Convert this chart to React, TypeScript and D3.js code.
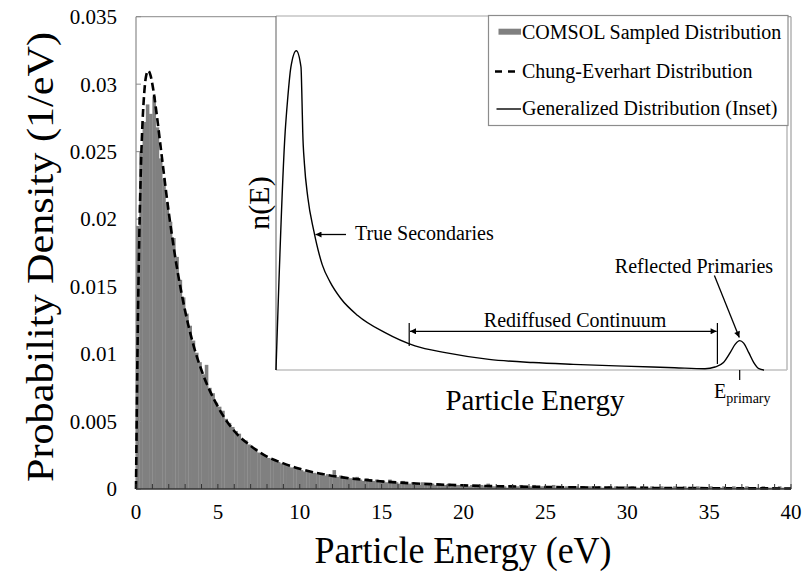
import React from "react";
import * as d3 from "d3";

// ---------- DATA ----------
const BIN_WIDTH = 0.2; // eV
// sampled histogram (probability density per bin), bins start at 0, 0.2, 0.4 ...
const HIST_0_10 = [
  0.0195, 0.025, 0.0272, 0.0285, 0.0278, 0.0291, 0.0268, 0.0245, 0.023, 0.0212,
  0.0198, 0.0186, 0.0172, 0.0155, 0.0142, 0.013, 0.0121, 0.011, 0.0101, 0.0094,
  0.0085, 0.0092, 0.0075, 0.0071, 0.0064, 0.0061, 0.0058, 0.0052, 0.0049, 0.0046,
  0.0043, 0.0041, 0.0037, 0.0036, 0.0033, 0.0031, 0.003, 0.0027, 0.0026, 0.0025,
  0.0023, 0.0022, 0.0021, 0.002, 0.0019, 0.0018, 0.0017, 0.0016, 0.0016, 0.0015,
];
const HIST_10_20 = [
  0.0014, 0.0013, 0.0014, 0.0012, 0.0012, 0.0011, 0.0012, 0.001, 0.0011, 0.0009,
  0.0014, 0.0009, 0.001, 0.0008, 0.0009, 0.0008, 0.0007, 0.0009, 0.0007, 0.0006,
  0.0008, 0.0007, 0.0006, 0.0007, 0.0005, 0.0006, 0.0005, 0.0007, 0.0005, 0.0005,
  0.0004, 0.0006, 0.0005, 0.0004, 0.0005, 0.0004, 0.0003, 0.0005, 0.0004, 0.0003,
  0.0004, 0.0003, 0.0004, 0.0003, 0.0003, 0.0004, 0.0002, 0.0003, 0.0003, 0.0002,
];
const HIST_20_30 = [
  0.0003, 0.0002, 0.0003, 0.0002, 0.0002, 0.0003, 0.0002, 0.0004, 0.0002, 0.0002,
  0.0003, 0.0002, 0.0002, 0.0001, 0.0003, 0.0002, 0.0002, 0.0003, 0.0001, 0.0002,
  0.0002, 0.0003, 0.0001, 0.0002, 0.0002, 0.0001, 0.0002, 0.0003, 0.0001, 0.0002,
  0.0001, 0.0002, 0.0002, 0.0001, 0.0002, 0.0001, 0.0002, 0.0001, 0.0002, 0.0002,
  0.0001, 0.0002, 0.0001, 0.0001, 0.0002, 0.0001, 0.0002, 0.0001, 0.0001, 0.0002,
];
const HIST_30_40 = [
  0.0001, 0.0002, 0.0001, 0.0001, 0.0002, 0.0001, 0.0001, 0.0002, 0.0001, 0.0001,
  0.0002, 0.0001, 0.0001, 0.0001, 0.0002, 0.0001, 0.0001, 0.0002, 0.0001, 0.0001,
  0.0001, 0.0002, 0.0001, 0.0001, 0.0001, 0.0002, 0.0001, 0.0001, 0.0001, 0.0002,
  0.0001, 0.0001, 0.0002, 0.0001, 0.0001, 0.0001, 0.0002, 0.0001, 0.0001, 0.0001,
  0.0001, 0.0002, 0.0001, 0.0001, 0.0001, 0.0001, 0.0002, 0.0001, 0.0001, 0.0001,
];
const HIST = [...HIST_0_10, ...HIST_10_20, ...HIST_20_30, ...HIST_30_40];

// Chung-Everhart curve
const CE_E = [0, 0.1, 0.2, 0.3, 0.4, 0.5, 0.6, 0.75, 0.9, 1.0, 1.25, 1.5, 2, 2.5, 3, 3.5, 4, 5, 6, 7, 8, 9, 10, 12, 14, 16, 18, 20, 25, 30, 35, 40];
const CE_P = [0, 0.011, 0.0186, 0.0238, 0.0272, 0.0293, 0.0305, 0.031, 0.0306, 0.03, 0.0279, 0.0254, 0.0205, 0.0164, 0.0132, 0.0107, 0.0088, 0.0061, 0.0043, 0.0032, 0.0024, 0.0019, 0.0015, 0.00097, 0.00067, 0.00048, 0.00036, 0.00027, 0.00015, 0.00009, 0.00006, 0.00004];

// Generalized distribution (inset, arbitrary units)
const INSET_E = [0, 1.8, 2.25, 2.92, 3.97, 4.89, 5.09, 5.23, 5.56, 6.22, 7.4, 9.06, 10.57, 12.68, 15.99, 21.25, 27.2, 33.13, 41.68, 50.29, 58.2, 68.1, 78.0, 83.95, 85.91, 87.57, 88.88, 89.88, 90.74, 91.52, 92.52, 93.5, 94.5, 95.5];
const INSET_N = [0, 0.674, 0.76, 0.856, 0.902, 0.856, 0.76, 0.674, 0.583, 0.488, 0.393, 0.297, 0.249, 0.202, 0.154, 0.106, 0.068, 0.049, 0.03, 0.021, 0.016, 0.011, 0.0065, 0.0037, 0.0085, 0.021, 0.049, 0.073, 0.083, 0.076, 0.049, 0.021, 0.0037, 0];

const X_TICKS = [0, 5, 10, 15, 20, 25, 30, 35, 40];
const X_MINOR = d3.range(0, 41, 1);
const Y_TICKS = [0, 0.005, 0.01, 0.015, 0.02, 0.025, 0.03, 0.035];
const Y_TICK_LABELS = ["0", "0.005", "0.01", "0.015", "0.02", "0.025", "0.03", "0.035"];
const LEGEND = ["COMSOL Sampled Distribution", "Chung-Everhart Distribution", "Generalized Distribution (Inset)"];

const FONT = "'Liberation Serif', 'Times New Roman', serif";

export default function App() {
  const x = d3.scaleLinear().domain([0, 40]).range([136, 791]);
  const y = d3.scaleLinear().domain([0, 0.035]).range([489, 16.7]);

  // inset scales
  const xi = d3.scaleLinear().domain([0, 100]).range([276, 787]);
  const yi = d3.scaleLinear().domain([0, 1]).range([370, 16]);

  const ceLine = d3
    .line<number>()
    .x((_, i) => x(CE_E[i]))
    .y((d) => y(d))
    .curve(d3.curveMonotoneX)(CE_P);

  const insetLine = d3
    .line<number>()
    .x((_, i) => xi(INSET_E[i]))
    .y((d) => yi(d))
    .curve(d3.curveMonotoneX)(INSET_N);

  return (
    <svg
      width={803}
      height={585}
      style={{ position: "absolute", left: 0, top: 0, background: "#fff" }}
      fontFamily={FONT}
    >
      <defs>
        <marker id="arr" viewBox="0 0 10 10" refX="10" refY="5" markerWidth="9" markerHeight="6" markerUnits="userSpaceOnUse" orient="auto-start-reverse">
          <path d="M0,0 L10,5 L0,10 z" fill="#000" />
        </marker>
      </defs>
      <rect width={803} height={585} fill="#fff" />

      {/* histogram */}
      <g>
        {HIST.map((v, i) => (
          <rect
            key={i}
            x={x(i * BIN_WIDTH)}
            width={x((i + 1) * BIN_WIDTH) - x(i * BIN_WIDTH) + 0.3}
            y={y(v)}
            height={y(0) - y(v)}
            fill="#808080"
          />
        ))}
      </g>

      {/* plot frame */}
      <line x1={x(0)} x2={x(40)} y1={y(0.035)} y2={y(0.035)} stroke="#a0a0a0" strokeWidth={1.2} />
      <line x1={x(40)} x2={x(40)} y1={y(0.035)} y2={y(0)} stroke="#a0a0a0" strokeWidth={1.2} />
      <line x1={x(0)} x2={x(0)} y1={y(0.035)} y2={y(0)} stroke="#8a8a8a" strokeWidth={1.2} />
      {Y_TICKS.map((t) => (
        <line key={t} x1={x(0)} x2={x(0) + 5} y1={y(t)} y2={y(t)} stroke="#8a8a8a" strokeWidth={1} />
      ))}

      {/* Chung-Everhart dashed */}
      <path d={ceLine || ""} fill="none" stroke="#000" strokeWidth={2.6} strokeDasharray="8,4" />

      {/* bottom axis */}
      <line x1={x(0)} x2={x(40)} y1={y(0)} y2={y(0)} stroke="#333" strokeWidth={1.4} />
      {X_MINOR.map((t) => (
        <line key={t} x1={x(t)} x2={x(t)} y1={y(0)} y2={y(0) - 5} stroke="#333" strokeWidth={1} />
      ))}

      {/* tick labels */}
      {X_TICKS.map((t) => (
        <text key={t} x={x(t)} y={519} fontSize={21} textAnchor="middle" fill="#000">
          {t}
        </text>
      ))}
      {Y_TICKS.map((t, i) => (
        <text key={t} x={117} y={y(t)} dy="0.35em" fontSize={21} textAnchor="end" fill="#000">
          {Y_TICK_LABELS[i]}
        </text>
      ))}

      {/* axis titles */}
      <text transform="translate(463,563) scale(1,1.05)" fontSize={36} textAnchor="middle">
        Particle Energy (eV)
      </text>
      <text
        transform="translate(53,257) rotate(-90)"
        fontSize={37}
        textAnchor="middle"
        textLength={450}
        lengthAdjust="spacingAndGlyphs"
      >
        Probability Density (1/eV)
      </text>

      {/* inset */}
      <rect x={xi(0)} y={yi(1)} width={xi(100) - xi(0)} height={yi(0) - yi(1)} fill="#fff" stroke="none" />
      <line x1={xi(0)} x2={xi(100)} y1={yi(1)} y2={yi(1)} stroke="#a8a8a8" strokeWidth={1.2} />
      <line x1={xi(100)} x2={xi(100)} y1={yi(1)} y2={yi(0)} stroke="#a8a8a8" strokeWidth={1.2} />
      <line x1={xi(0)} x2={xi(100)} y1={yi(0)} y2={yi(0)} stroke="#c0c0c0" strokeWidth={1.4} />
      <line x1={xi(0)} x2={xi(0)} y1={yi(1)} y2={yi(0)} stroke="#7a7a7a" strokeWidth={1.2} />
      <path d={insetLine || ""} fill="none" stroke="#000" strokeWidth={1.4} />

      {/* inset labels */}
      <text transform="translate(269,203) rotate(-90)" fontSize={30} textAnchor="middle">
        n(E)
      </text>
      <text x={535} y={410} fontSize={29} textAnchor="middle">
        Particle Energy
      </text>
      <line x1={xi(90.74)} x2={xi(90.74)} y1={yi(0)} y2={yi(0) + 10} stroke="#000" strokeWidth={1.2} />
      <text x={714} y={398} fontSize={20}>
        E<tspan fontSize={14} dy={5}>primary</tspan>
      </text>

      {/* annotations */}
      <line x1={346} y1={234.5} x2={315.5} y2={234.5} stroke="#000" strokeWidth={1.3} markerEnd="url(#arr)" />
      <text x={355} y={240} fontSize={20}>
        True Secondaries
      </text>

      <line x1={409.2} x2={409.2} y1={323} y2={346} stroke="#000" strokeWidth={1.2} />
      <line x1={717.4} x2={717.4} y1={323} y2={364} stroke="#000" strokeWidth={1.2} />
      <line x1={410} y1={331.3} x2={716.6} y2={331.3} stroke="#000" strokeWidth={1.3} markerStart="url(#arr)" markerEnd="url(#arr)" />
      <text x={575} y={327} fontSize={20} textAnchor="middle">
        Rediffused Continuum
      </text>

      <line x1={714.4} y1={275.6} x2={739.3} y2={337.4} stroke="#000" strokeWidth={1.3} markerEnd="url(#arr)" />
      <text x={694} y={273} fontSize={20} textAnchor="middle">
        Reflected Primaries
      </text>

      {/* legend */}
      <rect x={488.5} y={15.5} width={299.5} height={110} fill="#fff" stroke="#8c8c8c" strokeWidth={1.2} />
      <rect x={498.5} y={28.7} width={22.5} height={6} fill="#808080" />
      <text x={522} y={38.5} fontSize={20}>
        {LEGEND[0]}
      </text>
      <line x1={495} x2={521} y1={71.5} y2={71.5} stroke="#000" strokeWidth={2.4} strokeDasharray="7,6" />
      <text x={522} y={77.5} fontSize={20}>
        {LEGEND[1]}
      </text>
      <line x1={496.5} x2={521} y1={109} y2={109} stroke="#000" strokeWidth={1.4} />
      <text x={522} y={114.5} fontSize={20}>
        {LEGEND[2]}
      </text>
    </svg>
  );
}
